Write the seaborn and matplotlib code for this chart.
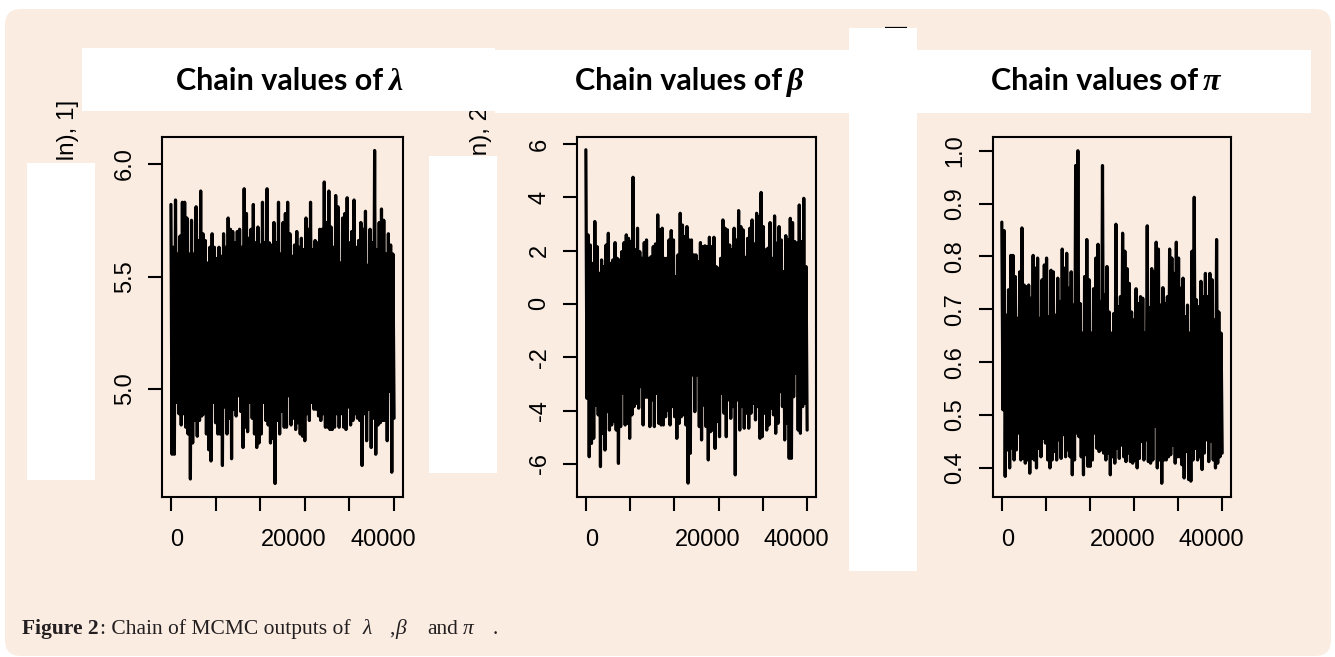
import numpy as np
import pandas as pd
import matplotlib
matplotlib.use('Agg')
import matplotlib.pyplot as plt
import seaborn as sns
from matplotlib.patches import Rectangle, FancyBboxPatch

sns.set_style("ticks")
plt.rcParams['font.family'] = ['Liberation Sans', 'DejaVu Sans']

# chain values: upper and lower edge of the band, left to right
lambda_top = [5.82, 5.63, 5.84, 5.60, 5.68, 5.83, 5.83, 5.76, 5.60, 5.75, 5.60, 5.81, 5.66, 5.88, 5.69,
              5.66, 5.56, 5.63, 5.69, 5.63, 5.58, 5.63, 5.59, 5.69, 5.63, 5.76, 5.71, 5.70, 5.65, 5.70,
              5.71, 5.63, 5.89, 5.78, 5.67, 5.71, 5.82, 5.65, 5.72, 5.64, 5.83, 5.65, 5.89, 5.65, 5.64,
              5.74, 5.65, 5.83, 5.60, 5.74, 5.78, 5.83, 5.69, 5.59, 5.64, 5.70, 5.63, 5.67, 5.62, 5.76,
              5.71, 5.83, 5.62, 5.66, 5.65, 5.71, 5.71, 5.92, 5.74, 5.88, 5.72, 5.63, 5.86, 5.81, 5.56,
              5.76, 5.78, 5.85, 5.65, 5.70, 5.84, 5.63, 5.66, 5.74, 5.71, 5.79, 5.55, 5.71, 5.65, 6.06,
              5.62, 5.74, 5.80, 5.75, 5.60, 5.69, 5.64, 5.60]
lambda_bot = [4.71, 4.71, 4.94, 4.89, 4.84, 4.89, 4.83, 4.80, 4.60, 4.76, 4.86, 4.79, 4.86, 4.88, 4.89,
              4.80, 4.73, 4.68, 4.94, 4.85, 4.80, 4.80, 4.66, 4.92, 4.80, 4.87, 4.69, 4.91, 4.88, 4.97,
              4.90, 4.74, 4.83, 4.81, 4.94, 4.87, 4.80, 4.74, 4.76, 4.80, 4.94, 4.86, 4.84, 4.76, 4.78,
              4.58, 4.86, 4.80, 4.90, 4.83, 4.83, 4.97, 4.84, 4.87, 4.82, 4.85, 4.80, 4.79, 4.77, 4.89,
              4.86, 4.94, 4.91, 4.91, 4.88, 4.86, 4.89, 4.83, 4.83, 4.82, 4.82, 4.83, 4.89, 4.83, 4.89,
              4.83, 4.82, 4.92, 4.84, 4.86, 4.89, 4.87, 4.86, 4.66, 4.89, 4.77, 4.91, 4.74, 4.87, 4.71,
              4.84, 4.85, 4.86, 4.86, 4.77, 4.99, 4.63, 4.87, 4.94]

beta_top = [5.78, 2.59, 2.21, 1.52, 3.09, 2.15, 1.15, 1.65, 1.40, 2.21, 2.65, 1.52, 1.65, 2.30, 1.71,
            1.65, 1.96, 2.30, 2.59, 2.46, 2.34, 4.75, 2.03, 2.84, 1.96, 1.71, 2.30, 2.40, 1.71, 1.77,
            2.15, 2.25, 3.34, 2.78, 2.84, 1.71, 1.71, 2.40, 2.75, 2.40, 1.03, 1.84, 3.40, 2.96, 2.53,
            2.90, 2.40, 2.40, 1.84, 1.84, 1.59, 2.30, 2.15, 2.18, 2.15, 2.50, 2.15, 2.50, 1.40, 1.34,
            1.71, 3.15, 2.84, 2.78, 2.21, 2.03, 2.84, 2.40, 3.50, 2.90, 2.78, 1.75, 2.46, 2.84, 3.15,
            2.25, 3.40, 3.28, 4.18, 2.90, 2.03, 2.09, 3.05, 1.71, 3.30, 2.28, 2.90, 2.40, 1.21, 2.56,
            2.40, 3.21, 3.05, 2.34, 2.28, 3.71, 2.34, 3.96, 1.40]
beta_bot = [-3.54, -5.73, -5.23, -5.04, -3.79, -4.16, -6.10, -4.85, -5.48, -4.04, -4.73, -4.54, -4.41,
            -4.73, -5.98, -4.60, -3.35, -4.54, -4.48, -5.04, -4.16, -3.85, -3.73, -3.91, -3.10, -4.54,
            -3.50, -3.50, -4.60, -3.60, -4.60, -3.35, -4.48, -4.54, -4.54, -4.23, -3.98, -4.54, -3.85,
            -4.23, -5.04, -4.48, -4.23, -4.16, -4.54, -6.72, -5.60, -2.66, -4.04, -2.66, -4.60, -5.10,
            -3.79, -4.60, -5.85, -4.79, -4.73, -5.42, -4.41, -4.98, -3.35, -4.10, -4.98, -3.60, -4.29,
            -3.85, -6.41, -3.60, -4.73, -3.85, -4.66, -4.10, -4.66, -4.10, -3.73, -4.35, -3.85, -5.04,
            -4.98, -4.10, -4.73, -4.54, -3.91, -4.16, -4.85, -4.48, -3.29, -3.85, -5.10, -4.48, -5.79,
            -5.79, -3.48, -2.60, -4.73, -4.85, -3.85, -3.73, -4.73]

pi_top = [0.865, 0.849, 0.689, 0.737, 0.802, 0.802, 0.762, 0.683, 0.771, 0.854, 0.746, 0.743, 0.746,
          0.721, 0.802, 0.778, 0.797, 0.683, 0.756, 0.784, 0.797, 0.686, 0.774, 0.771, 0.689, 0.759,
          0.715, 0.814, 0.778, 0.806, 0.740, 0.771, 0.708, 0.972, 1.000, 0.711, 0.655, 0.762, 0.832,
          0.756, 0.655, 0.739, 0.797, 0.823, 0.715, 0.972, 0.727, 0.781, 0.695, 0.655, 0.692, 0.861,
          0.705, 0.724, 0.844, 0.810, 0.777, 0.749, 0.695, 0.680, 0.739, 0.711, 0.724, 0.721, 0.655,
          0.858, 0.703, 0.777, 0.771, 0.827, 0.814, 0.708, 0.741, 0.711, 0.724, 0.814, 0.797, 0.768,
          0.827, 0.797, 0.740, 0.759, 0.686, 0.708, 0.655, 0.810, 0.912, 0.718, 0.705, 0.753, 0.724,
          0.768, 0.724, 0.768, 0.756, 0.680, 0.832, 0.695, 0.655]
pi_bot = [0.510, 0.384, 0.434, 0.400, 0.437, 0.415, 0.434, 0.466, 0.415, 0.418, 0.409, 0.415, 0.390,
          0.418, 0.415, 0.400, 0.437, 0.421, 0.456, 0.447, 0.415, 0.400, 0.415, 0.431, 0.415, 0.453,
          0.418, 0.463, 0.421, 0.434, 0.421, 0.387, 0.415, 0.466, 0.459, 0.421, 0.387, 0.425, 0.403,
          0.403, 0.415, 0.466, 0.437, 0.431, 0.434, 0.428, 0.415, 0.428, 0.387, 0.421, 0.409, 0.437,
          0.418, 0.443, 0.421, 0.412, 0.428, 0.412, 0.409, 0.415, 0.400, 0.418, 0.450, 0.415, 0.453,
          0.412, 0.409, 0.415, 0.479, 0.400, 0.415, 0.371, 0.415, 0.415, 0.421, 0.425, 0.443, 0.409,
          0.421, 0.421, 0.406, 0.381, 0.431, 0.378, 0.375, 0.415, 0.437, 0.415, 0.421, 0.397, 0.428,
          0.453, 0.412, 0.450, 0.415, 0.400, 0.409, 0.421, 0.428]

n_iter = 40000
x_ticks = [0, 8000, 16000, 24000, 32000, 40000]
x_label_pos = [1100, 22000, 38000]
x_labels = ['0', '20000', '40000']

lambda_yticks = [5.0, 5.5, 6.0]
beta_yticks = [-6, -4, -2, 0, 2, 4, 6]
pi_yticks = [0.4, 0.5, 0.6, 0.7, 0.8, 0.9, 1.0]

W, H = 1335, 657
PEACH = '#fbece2'


def fx(px):
    return px / W


def fy(py):
    return 1 - py / H


fig = plt.figure(figsize=(W / 100, H / 100), dpi=100, facecolor='white')


def prect(x0, y0, x1, y1, color='white', z=10, rounded=False):
    if rounded:
        p = FancyBboxPatch((x0 / 100, (H - y1) / 100), (x1 - x0) / 100, (y1 - y0) / 100,
                           boxstyle='round,pad=0,rounding_size=0.16', transform=fig.dpi_scale_trans,
                           facecolor=color, edgecolor='none', zorder=z)
    else:
        p = Rectangle((x0 / 100, (H - y1) / 100), (x1 - x0) / 100, (y1 - y0) / 100,
                      transform=fig.dpi_scale_trans, facecolor=color, edgecolor='none', zorder=z)
    fig.add_artist(p)


# peach page background
prect(5, 9, 1331, 656, color=PEACH, z=-5, rounded=True)

panels = [
    dict(top=lambda_top, bot=lambda_bot, box=(162, 137, 403, 497), ylim=(4.52, 6.12),
         yticks=lambda_yticks, ylabs=['5.0', '5.5', '6.0'], greek='\u03bb',
         tx=(383, 388), ylab='chain[(burn + 1): ln), 1]', lx=68, ltop=100),
    dict(top=beta_top, bot=beta_bot, box=(577, 137, 816, 497), ylim=(-7.24, 6.26),
         yticks=beta_yticks, ylabs=['-6', '-4', '-2', '0', '2', '4', '6'], greek='\u03b2',
         tx=(782, 787), ylab='chain[(burn + 1): n), 2]', lx=481, ltop=100),
    dict(top=pi_top, bot=pi_bot, box=(993, 137, 1231, 497), ylim=(0.345, 1.026),
         yticks=pi_yticks, ylabs=['0.4', '0.5', '0.6', '0.7', '0.8', '0.9', '1.0'], greek='\u03c0',
         tx=(1198, 1203), ylab='chain[(burn + 1): n), 3]', lx=897, ltop=24),
]

for p in panels:
    x0, y0, x1, y1 = p['box']
    ax = fig.add_axes([fx(x0), fy(y1), (x1 - x0) / W, (y1 - y0) / H])
    ax.set_facecolor('none')
    n = min(len(p['top']), len(p['bot']))
    vals = np.column_stack([p['top'][:n], p['bot'][:n]]).ravel()
    df = pd.DataFrame({'iteration': np.linspace(0, n_iter, len(vals)), 'value': vals})
    sns.lineplot(data=df, x='iteration', y='value', ax=ax, color='black', linewidth=2.3,
                 estimator=None, sort=False)
    ax.lines[0].set_solid_joinstyle('round')
    ax.set_xlim(-0.04 * n_iter, 1.04 * n_iter)
    ax.set_ylim(*p['ylim'])
    ax.set_xlabel('')
    ax.set_ylabel('')

    ax.set_xticks(x_ticks)
    ax.set_xticklabels([''] * len(x_ticks))
    ax.set_xticks(x_label_pos, minor=True)
    ax.set_xticklabels(x_labels, minor=True)
    ax.tick_params(axis='x', which='major', length=10, width=1.5, color='black')
    ax.tick_params(axis='x', which='minor', length=0, pad=23, labelsize=17, labelcolor='black')

    ax.set_yticks(p['yticks'])
    ax.set_yticklabels(p['ylabs'], rotation=90, va='center')
    ax.tick_params(axis='y', length=10, width=1.5, pad=9, labelsize=17, color='black',
                   labelcolor='black')
    for s in ax.spines.values():
        s.set_linewidth(1.5)
        s.set_color('black')
        s.set_visible(True)

    fig.text(fx(p['lx']), fy(p['ltop']), p['ylab'], rotation=90, ha='center', va='top',
             fontsize=17.5, color='black', zorder=5)

# white patches over the figure
prect(82, 48, 495, 111)
prect(495, 50, 849, 113)
prect(917, 50, 1311, 113)
prect(27, 163, 95, 480)
prect(429, 156, 497, 473)
prect(849, 28, 917, 571)

# titles
for p in panels:
    fig.text(fx(p['tx'][0]), fy(90), 'Chain values of', ha='right', va='baseline', fontsize=22,
             fontweight='bold', family=['Lato', 'DejaVu Sans'], color='black', zorder=12)
    fig.text(fx(p['tx'][1]), fy(90), p['greek'], ha='left', va='baseline', fontsize=23,
             fontweight='bold', style='italic', family=['Liberation Serif', 'DejaVu Serif'],
             color='black', zorder=12)

# caption
cap = dict(va='baseline', fontsize=15.5, color='#231f20', zorder=12,
           family=['Liberation Serif', 'DejaVu Serif'])
fig.text(fx(22), fy(634), 'Figure 2', fontweight='bold', **cap)
fig.text(fx(100), fy(634), ': Chain of MCMC outputs of', **cap)
fig.text(fx(363), fy(634), '\u03bb', style='italic', **cap)
fig.text(fx(389), fy(634), ',', **cap)
fig.text(fx(395), fy(634), '\u03b2', style='italic', **cap)
fig.text(fx(427), fy(634), 'and', **cap)
fig.text(fx(463), fy(634), '\u03c0', style='italic', **cap)
fig.text(fx(493), fy(634), '.', **cap)

fig.savefig('out.png', dpi=100, facecolor='white')
